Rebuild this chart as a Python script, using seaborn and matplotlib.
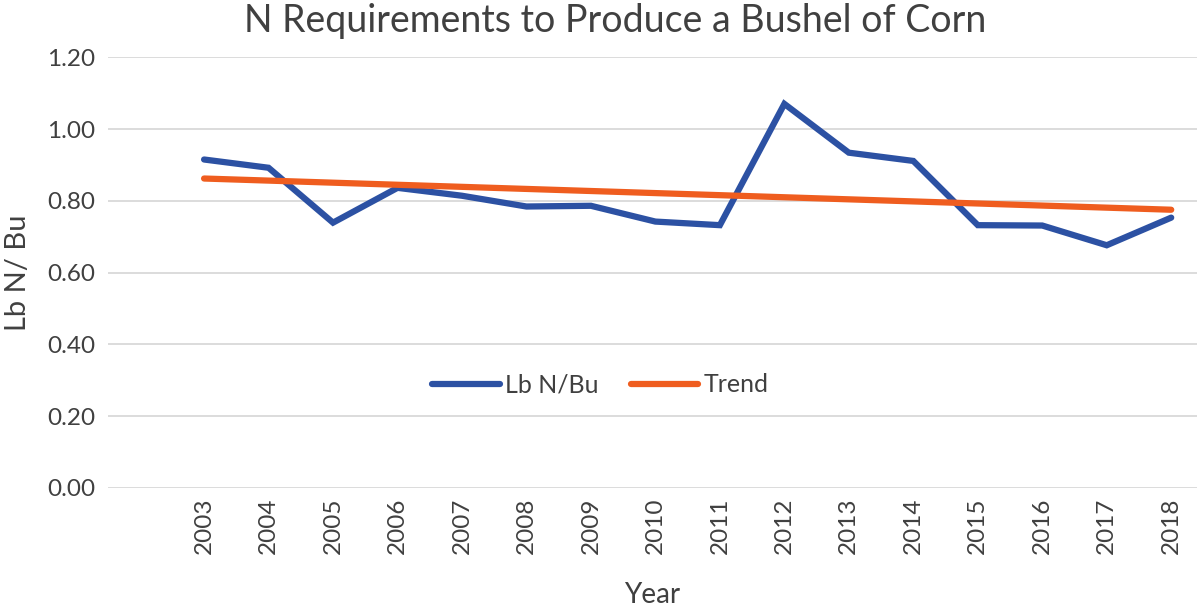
import numpy as np
import seaborn as sb
import matplotlib
matplotlib.use("Agg")
import matplotlib.pyplot as plt

# Data
years = ['2003', '2004', '2005', '2006', '2007', '2008', '2009', '2010',
         '2011', '2012', '2013', '2014', '2015', '2016', '2017', '2018']
lb_n_bu = [0.915, 0.892, 0.739, 0.836, 0.814, 0.784, 0.786, 0.742,
           0.732, 1.070, 0.934, 0.911, 0.732, 0.731, 0.676, 0.753]
# Linear trend line, endpoints only
trend_years = ['2003', '2018']
trend_vals = [0.862, 0.775]
y_ticks = [0.0, 0.2, 0.4, 0.6, 0.8, 1.0, 1.2]

blue = '#2c51a3'
orange = '#ef5d1f'
text_col = '#404040'

sb.set_style("white")
plt.rcParams['font.family'] = ['Lato', 'DejaVu Sans']

fig = plt.figure(figsize=(12, 6.09), dpi=100)
ax = fig.add_axes([0.09, 0.199, 0.9075, 0.707])

pos = np.arange(len(years))
trend_pos = [years.index(y) for y in trend_years]

sb.lineplot(x=pos, y=lb_n_bu, ax=ax, color=blue, linewidth=4.5,
            label='Lb N/Bu', solid_capstyle='round', solid_joinstyle='miter')
sb.lineplot(x=trend_pos, y=trend_vals, ax=ax, color=orange, linewidth=4.5,
            label='Trend', solid_capstyle='round')

ax.set_xlim(-1.49, 15.4)
ax.set_ylim(0, 1.2)
ax.set_yticks(y_ticks)
ax.set_yticklabels([f'{v:.2f}' for v in y_ticks], fontsize=17.5, color=text_col)
ax.set_xticks(pos)
ax.set_xticklabels(years, rotation=90, fontsize=17.5, color=text_col)
ax.tick_params(axis='both', length=0)
ax.tick_params(axis='y', pad=9)
ax.tick_params(axis='x', pad=7)

ax.yaxis.grid(True, color='#d9d9d9', linewidth=1.3)
ax.set_axisbelow(True)
for s in ax.spines.values():
    s.set_visible(False)

ax.set_xlabel('Year', fontsize=20, color=text_col, labelpad=20)
ax.set_ylabel('Lb N/ Bu', fontsize=21, color=text_col, labelpad=12)
fig.text(0.513, 0.965, 'N Requirements to Produce a Bushel of Corn',
         ha='center', va='center', fontsize=27, color=text_col)

ax.legend(loc='center', bbox_to_anchor=(0.452, 0.239), ncol=2, frameon=False,
          fontsize=18, handlelength=2.7, handletextpad=0.2, columnspacing=1.3,
          labelcolor=text_col)

plt.savefig('out.png', dpi=100)
